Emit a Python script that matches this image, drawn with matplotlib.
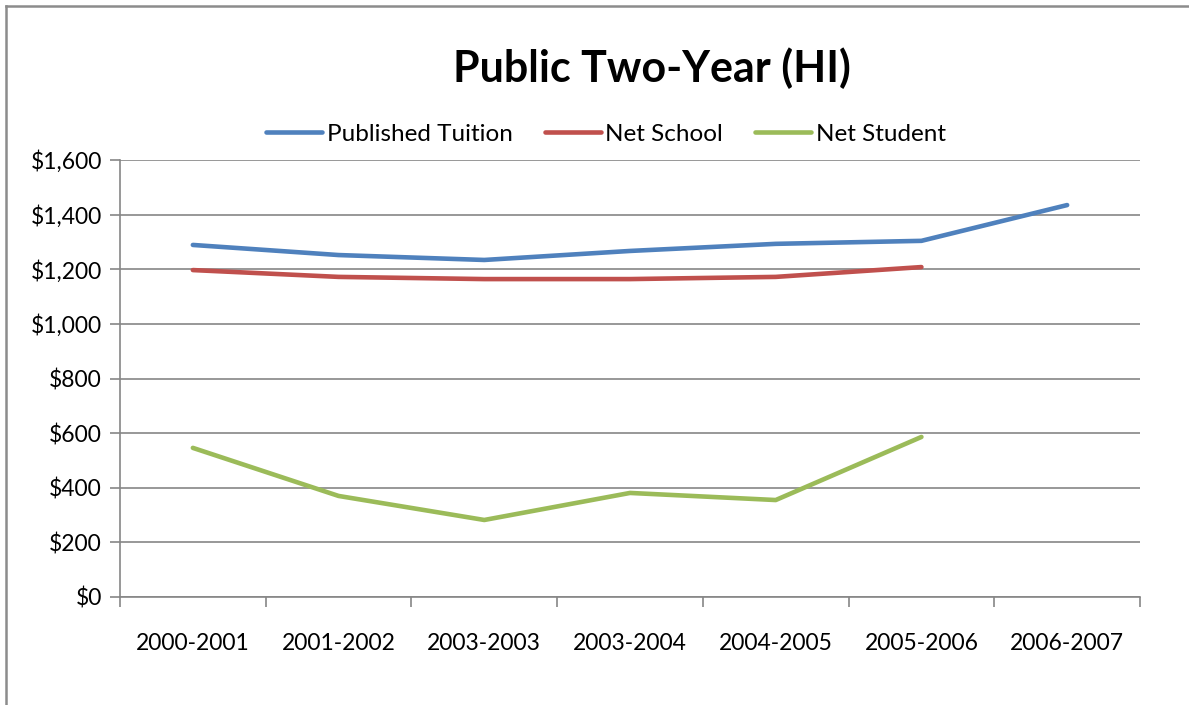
import numpy as np
import matplotlib
matplotlib.use('Agg')
import matplotlib.pyplot as plt
from matplotlib.lines import Line2D
from matplotlib.ticker import FuncFormatter, FixedLocator

plt.rcParams['font.family'] = ['Lato', 'DejaVu Sans']

years = ['2000-2001', '2001-2002', '2003-2003', '2003-2004', '2004-2005', '2005-2006', '2006-2007']
published = [1289, 1252, 1234, 1267, 1293, 1304, 1435]
net_school = [1197, 1172, 1164, 1164, 1172, 1208]
net_student = [546, 370, 282, 381, 355, 586]

fig = plt.figure(figsize=(11.89, 7.05), dpi=100)
ax = fig.add_axes([120/1189, 1-597/705, 1020/1189, 437/705])

# outer chart border, only left and top show (the rest is cropped)
bx, by = 5.5/1189, 1 - 5.5/705
fig.lines.append(Line2D([bx, bx], [-0.1, by], transform=fig.transFigure, color='#8c8c8c', lw=1.8))
fig.lines.append(Line2D([bx, 1.1], [by, by], transform=fig.transFigure, color='#8c8c8c', lw=1.8))

x = np.arange(len(years))
ax.plot(x, published, color='#4F81BD', lw=3.3, solid_capstyle='round', label='Published Tuition')
ax.plot(x[:len(net_school)], net_school, color='#C0504D', lw=3.3, solid_capstyle='round', label='Net School')
ax.plot(x[:len(net_student)], net_student, color='#9BBB59', lw=3.3, solid_capstyle='round', label='Net Student')

ax.set_xlim(-0.5, len(years) - 0.5)
ax.set_ylim(0, 1600)
ax.set_yticks(np.arange(0, 1601, 200))
ax.yaxis.set_major_formatter(FuncFormatter(lambda v, p: '${:,.0f}'.format(v)))
ax.grid(axis='y', color='#868686', lw=1.2)
ax.set_axisbelow(True)

ax.set_xticks(x)
ax.set_xticklabels(years)
ax.xaxis.set_minor_locator(FixedLocator(np.arange(-0.5, len(years), 1)))
ax.tick_params(axis='x', which='major', length=0, pad=26, labelsize=16.5)
ax.tick_params(axis='x', which='minor', length=7, width=1.2, color='#868686', direction='out')
ax.tick_params(axis='y', length=7, width=1.2, color='#868686', pad=6, labelsize=16.5)

for s in ['top', 'right']:
    ax.spines[s].set_visible(False)
for s in ['left', 'bottom']:
    ax.spines[s].set_color('#868686')
    ax.spines[s].set_linewidth(1.2)

fig.text(652/1189, 1-68/705, 'Public Two-Year (HI)', ha='center', va='center',
         fontsize=31, fontweight='bold')

fig.legend(loc='center', bbox_to_anchor=(606/1189, 1-134/705), ncol=3, frameon=False,
           fontsize=17.5, handlelength=2.3, handletextpad=0.2, columnspacing=1.3)

fig.savefig('out.png', dpi=100)
